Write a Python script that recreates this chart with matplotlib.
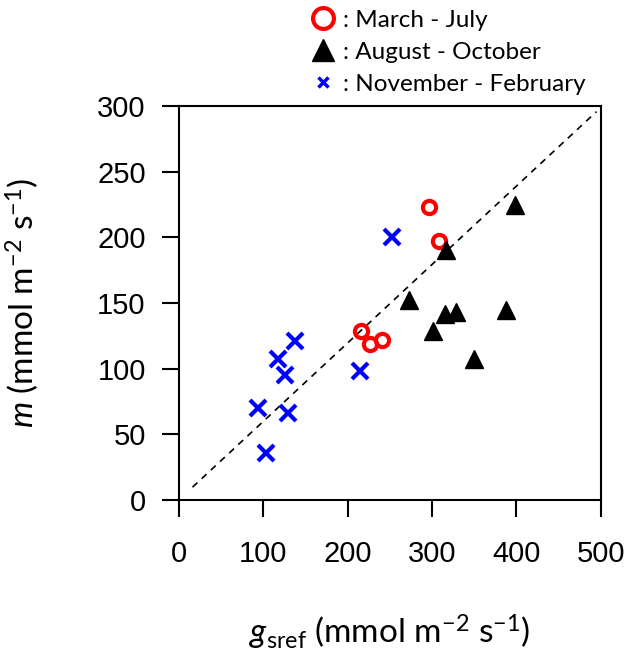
import matplotlib
matplotlib.use("Agg")
from matplotlib import pyplot as plt
from matplotlib.lines import Line2D

# March - July
mar_jul_x = [297, 308, 216, 226, 241]
mar_jul_y = [223, 197, 129, 119, 122]

# August - October
aug_oct_x = [399, 317, 273, 316, 328, 388, 301, 350]
aug_oct_y = [225, 190, 152, 142, 143, 145, 129, 107]

# November - February
nov_feb_x = [252, 137, 117, 126, 94, 129, 103, 215]
nov_feb_y = [200, 121, 107, 95, 70, 66, 36, 98]

# fitted line y = slope * x + intercept, drawn over this x range
fit_slope = 0.597
fit_intercept = 0.2
fit_x = [16, 495]

x_ticks = [0, 100, 200, 300, 400, 500]
y_ticks = [0, 50, 100, 150, 200, 250, 300]

plt.rcParams['mathtext.fontset'] = 'custom'
plt.rcParams['mathtext.rm'] = 'Lato'
plt.rcParams['mathtext.it'] = 'Lato:italic'

fig = plt.figure(figsize=(6.27, 6.61), dpi=100)
ax = fig.add_axes([0.2855, 0.2436, 0.6725, 0.596])

fit_y = [fit_slope * v + fit_intercept for v in fit_x]
ax.plot(fit_x, fit_y, color='black', lw=1.2, ls=(0, (4, 3.5)))

ax.plot(mar_jul_x, mar_jul_y, ls='none', marker='o', ms=9.5, mfc='none',
        mec='red', mew=3)
ax.plot(aug_oct_x, aug_oct_y, ls='none', marker='^', ms=13, color='black')
ax.plot(nov_feb_x, nov_feb_y, ls='none', marker='x', ms=12, mec='blue',
        mew=3)

ax.set_xlim(0, 500)
ax.set_ylim(0, 300)
ax.set_xticks(x_ticks)
ax.set_yticks(y_ticks)
for s in ax.spines.values():
    s.set_linewidth(1.5)
ax.tick_params(direction='out', length=12, width=1.5, labelsize=21,
               labelfontfamily='Liberation Sans')
ax.tick_params(axis='x', pad=17)
ax.tick_params(axis='y', pad=12)

ax.set_xlabel(r'$g_{\mathrm{sref}}$ (mmol m$^{-2}$ s$^{-1}$)',
              fontsize=24, family='Lato', labelpad=32)
ax.set_ylabel(r'$m$ (mmol m$^{-2}$ s$^{-1}$)', fontsize=24, family='Lato',
              labelpad=40)

handles = [
    Line2D([], [], ls='none', marker='o', ms=15, mfc='none', mec='red', mew=3),
    Line2D([], [], ls='none', marker='^', ms=16, color='black'),
    Line2D([], [], ls='none', marker='x', ms=7, mec='blue', mew=2.5),
]
labels = [': March - July', ': August - October', ': November - February']
fig.legend(handles, labels, loc='upper left', bbox_to_anchor=(0.477, 1.0),
           frameon=False, prop={'family': 'Lato', 'size': 17.5},
           handlelength=1.2, handletextpad=0.2, labelspacing=0.45,
           borderaxespad=0)

fig.savefig('out.png', dpi=100)
